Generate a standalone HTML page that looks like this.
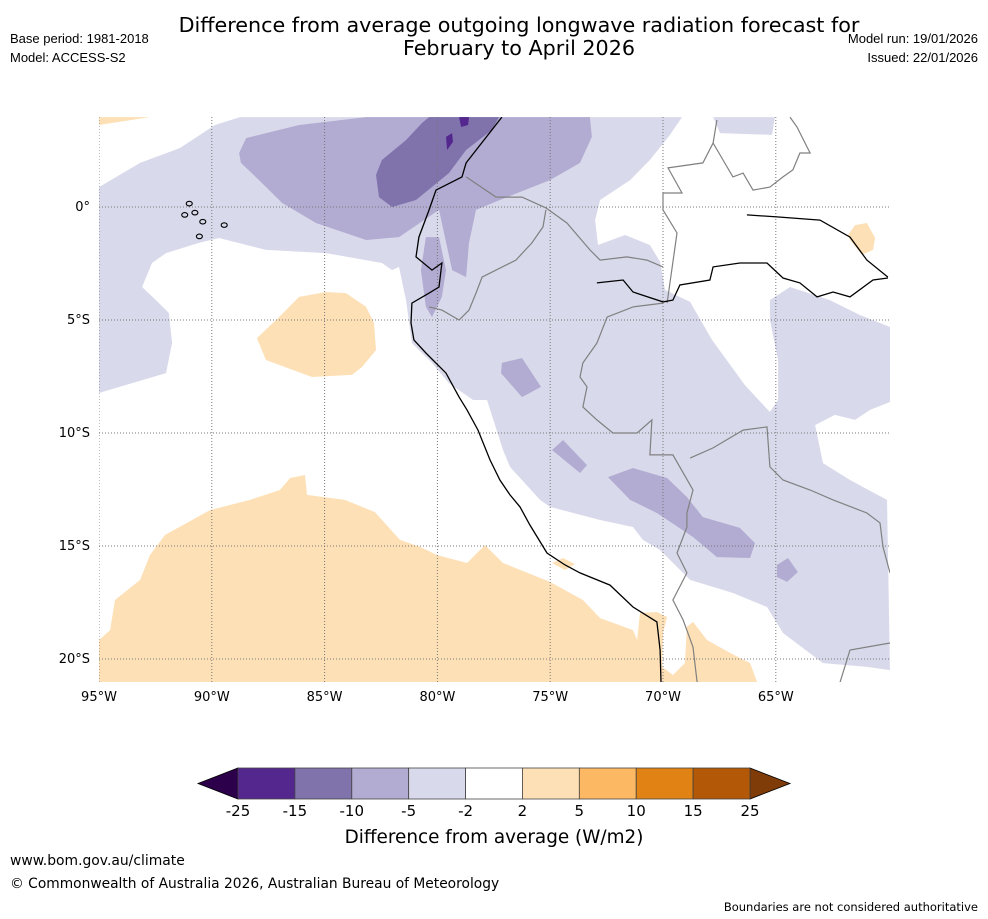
<!DOCTYPE html>
<html><head><meta charset="utf-8"><style>
body{margin:0;background:#fff;font-family:"DejaVu Sans",sans-serif}
svg{display:block}
</style></head><body>
<svg id="chart" width="988" height="919" viewBox="0 0 988 919" xmlns="http://www.w3.org/2000/svg" font-family="DejaVu Sans, Liberation Sans, sans-serif">
<rect width="988" height="919" fill="#fff"/>
<text x="519" y="32" font-size="20.7" text-anchor="middle">Difference from average outgoing longwave radiation forecast for</text>
<text x="519" y="55" font-size="20.7" text-anchor="middle">February to April 2026</text>
<text x="10" y="43" font-size="13" font-family="Liberation Sans, sans-serif">Base period: 1981-2018</text>
<text x="10" y="62" font-size="13" font-family="Liberation Sans, sans-serif">Model: ACCESS-S2</text>
<text x="978" y="43" font-size="13" text-anchor="end" font-family="Liberation Sans, sans-serif">Model run: 19/01/2026</text>
<text x="978" y="62" font-size="13" text-anchor="end" font-family="Liberation Sans, sans-serif">Issued: 22/01/2026</text>
<defs><clipPath id="mapclip"><rect x="99" y="117" width="791" height="565"/></clipPath></defs>
<g id="map" clip-path="url(#mapclip)"></g>
<g id="axes"></g>
<g id="cbar"></g>
<text x="494" y="843" font-size="18.4" text-anchor="middle">Difference from average (W/m2)</text>
<text x="10" y="865" font-size="13.9">www.bom.gov.au/climate</text>
<text x="10" y="888" font-size="13.8">© Commonwealth of Australia 2026, Australian Bureau of Meteorology</text>
<text x="978" y="911" font-size="11.5" text-anchor="end">Boundaries are not considered authoritative</text>
</svg>
<script>
// ---- data: colour levels ----
const levels = [-25,-15,-10,-5,-2,2,5,10,15,25];
const levelColors = ["#54278f","#8073ac","#b2abd2","#d8daeb","#ffffff","#fee0b6","#fdb863","#e08214","#b35806"];
const lonTicks = [-95,-90,-85,-80,-75,-70,-65];
const lonTickLabels = ["95°W","90°W","85°W","80°W","75°W","70°W","65°W"];
const latTicks = [0,-5,-10,-15,-20];
const latTickLabels = ["0°","5°S","10°S","15°S","20°S"];
// ---- data: anomaly contour regions (lon, lat) ----
const regionBand = ["-5to-2","-5to-2","-10to-5","-15to-10","-25to-15","-25to-15","-10to-5","-10to-5","-10to-5","-10to-5","-10to-5","2to5","2to5","2to5","2to5","2to5"];
const regionColorIndex = [3,3,2,1,0,0,2,2,2,2,2,5,5,5,5,5];
const regionL1 = [[-95,0.88],[-93.18,1.95],[-91.41,2.61],[-89.86,3.63],[-88.75,3.98],[-69.16,3.98],[-69.69,3.19],[-70.58,2.08],[-71.46,1.19],[-72.79,0.31],[-73.01,-0.58],[-72.88,-1.68],[-71.68,-1.24],[-70.58,-1.68],[-70.13,-2.43],[-69.91,-3.67],[-68.8,-4.2],[-67.83,-5.88],[-66.37,-7.88],[-65.26,-9.07],[-64.9,-8.54],[-64.9,-6.77],[-65.26,-5],[-65.26,-4.12],[-64.37,-3.54],[-62.6,-4.12],[-61.27,-4.78],[-59.94,-5.31],[-59.94,-8.63],[-60.82,-8.98],[-61.49,-9.42],[-62.38,-9.2],[-63.26,-9.65],[-62.91,-11.33],[-61.71,-12.08],[-60.07,-12.96],[-59.94,-20.49],[-60.96,-20.35],[-62.91,-20.18],[-64.68,-18.85],[-65.39,-17.7],[-66.9,-17.08],[-68.8,-16.5],[-70.13,-15.18],[-70.89,-14.73],[-71.33,-14.16],[-72.79,-13.85],[-75.01,-13.27],[-75.45,-12.96],[-76.78,-11.5],[-77.09,-10.75],[-77.8,-8.54],[-78.42,-8.54],[-79.49,-7.79],[-80.24,-6.9],[-81.13,-6.02],[-81.39,-4.12],[-81.7,-2.65],[-82.01,-2.79],[-82.46,-2.48],[-84.94,-2.04],[-87.6,-1.9],[-89.68,-1.37],[-90.57,-1.59],[-92.03,-2.04],[-92.65,-2.48],[-93.09,-3.54],[-92.34,-4.25],[-91.9,-4.69],[-91.76,-6.02],[-92.03,-7.35],[-95,-8.23]];
const regionL2 = [[-67.78,3.98],[-65.04,3.98],[-65.17,3.19],[-67.47,3.27]];
const regionM1 = [[-88.79,2.39],[-88.48,3.05],[-86.13,3.63],[-83.16,3.98],[-73.24,3.98],[-73.15,3.1],[-73.68,1.95],[-75.01,1.19],[-77.23,0.31],[-78.29,-0.13],[-78.6,-1.59],[-78.73,-3.1],[-79.35,-2.79],[-79.93,-0.13],[-81.7,-1.33],[-83.16,-1.46],[-85.38,-0.71],[-86.89,0.18],[-87.91,1.19],[-88.71,1.95]];
const regionD1 = [[-82.72,1.42],[-82.46,2.08],[-81.39,2.96],[-80.68,3.72],[-80.37,3.98],[-77.27,3.98],[-77.58,3.41],[-78.73,2.52],[-79.49,1.5],[-80.95,0.31],[-82.01,0],[-82.59,0.44]];
const regionP1 = [[-79.04,3.98],[-78.6,3.98],[-78.64,3.63],[-78.95,3.54]];
const regionP2 = [[-79.62,3.1],[-79.35,3.27],[-79.31,2.88],[-79.57,2.52]];
const regionM2 = [[-80.51,-1.33],[-79.93,-1.33],[-79.62,-2.79],[-79.8,-3.98],[-80.24,-4.87],[-80.51,-4.42],[-80.73,-2.79]];
const regionM3 = [[-77.14,-6.9],[-76.25,-6.68],[-75.41,-7.96],[-76.25,-8.41],[-77.18,-7.35]];
const regionM4 = [[-74.92,-10.75],[-74.43,-10.31],[-73.37,-11.42],[-73.68,-11.77]];
const regionM5 = [[-72.44,-11.95],[-71.33,-11.55],[-69.82,-11.99],[-68.94,-12.83],[-68.23,-13.72],[-66.59,-14.2],[-65.92,-14.87],[-66.14,-15.53],[-67.61,-15.49],[-68.67,-14.6],[-70.27,-13.54],[-71.46,-12.96]];
const regionM6 = [[-64.95,-15.84],[-64.46,-15.53],[-64.02,-16.15],[-64.5,-16.59],[-64.95,-16.37]];
const regionO0 = [[-95,3.98],[-92.74,3.98],[-95,3.63]];
const regionO1 = [[-88,-5.8],[-87.02,-4.87],[-86.13,-3.98],[-84.94,-3.76],[-84.05,-3.81],[-83.16,-4.42],[-82.81,-5.13],[-82.72,-6.33],[-83.34,-7.08],[-83.79,-7.43],[-85.56,-7.52],[-87.6,-6.77]];
const regionO2 = [[-61.8,-1.24],[-61.49,-0.8],[-60.96,-0.71],[-60.6,-1.37],[-60.69,-1.9],[-61.18,-2.12],[-61.71,-1.46]];
const regionO3 = [[-95,-19.16],[-94.51,-18.72],[-94.29,-17.39],[-93.18,-16.5],[-92.74,-15.4],[-92.07,-14.51],[-90.08,-13.41],[-88.31,-12.96],[-86.98,-12.52],[-86.53,-11.99],[-85.87,-11.86],[-85.78,-12.74],[-84.1,-12.96],[-82.77,-13.5],[-81.66,-14.73],[-80.77,-15.04],[-80.02,-15.4],[-78.69,-15.75],[-77.89,-14.96],[-77.09,-15.75],[-75.01,-16.59],[-73.55,-17.39],[-72.79,-18.19],[-71.33,-18.72],[-71.15,-19.16],[-71.02,-17.96],[-70.27,-17.92],[-69.82,-18.14],[-70,-18.85],[-70.04,-20.35],[-69.56,-20.71],[-69.03,-20.18],[-68.94,-18.58],[-68.67,-18.36],[-68.05,-19.16],[-67.03,-19.73],[-66.14,-20.18],[-65.83,-21.02],[-95,-21.02]];
const regionO4 = [[-74.92,-15.75],[-74.43,-15.53],[-73.9,-15.8],[-74.34,-16.06]];
const regions = [regionL1,regionL2,regionM1,regionD1,regionP1,regionP2,regionM2,regionM3,regionM4,regionM5,regionM6,regionO0,regionO1,regionO2,regionO3,regionO4];
// ---- data: coastlines / borders ----
const coastWest = [[-77.14,3.98],[-78.73,1.95],[-78.91,1.33],[-80.06,0.75],[-80.37,-0.13],[-80.82,-1.33],[-80.95,-2.21],[-80.24,-2.79],[-79.8,-2.48],[-79.93,-3.54],[-80.37,-3.81],[-81.13,-4.25],[-81.17,-5.13],[-81.04,-5.88],[-80.51,-6.46],[-79.62,-7.35],[-79.04,-8.41],[-78.69,-8.98],[-78.2,-9.87],[-77.67,-11.19],[-77.23,-12.08],[-76.78,-12.74],[-76.34,-13.27],[-75.9,-14.07],[-75.14,-15.31],[-74.34,-15.84],[-73.68,-16.19],[-72.35,-16.73],[-71.33,-17.7],[-70.27,-18.36],[-70.13,-19.6],[-70.09,-21.02]];
const riverLower = [[-72.93,-3.36],[-71.77,-3.23],[-71.33,-3.76],[-70,-4.2],[-69.56,-4.12],[-69.25,-3.45],[-67.92,-3.23],[-67.78,-2.65],[-66.59,-2.48],[-65.39,-2.48],[-64.68,-3.14],[-63.93,-3.36],[-63.17,-3.98],[-62.46,-3.76],[-61.71,-3.98],[-60.69,-3.23],[-60.03,-3.14]];
const riverUpper = [[-66.28,-0.35],[-64.95,-0.44],[-63.04,-0.58],[-61.71,-1.33],[-60.96,-2.35],[-60.03,-3.1]];
const border1 = [[-78.73,1.33],[-77.4,0.44],[-76.25,0.44],[-75.19,-0.04],[-74.26,-0.71],[-73.24,-1.9],[-72.79,-2.35],[-71.6,-2.21],[-70.71,-2.35],[-70,-2.65]];
const border2 = [[-75.19,-0.13],[-75.32,-0.88],[-75.81,-1.59],[-76.52,-2.35],[-78.02,-3.1],[-78.29,-3.81],[-78.6,-4.56],[-79.04,-5],[-79.8,-4.56],[-80.37,-4.42]];
const border3 = [[-70,-4.25],[-71.33,-4.42],[-72.48,-4.87],[-72.93,-6.02],[-73.55,-6.9],[-73.68,-7.52],[-73.37,-7.96],[-73.55,-8.85],[-72.93,-9.42],[-72.22,-10],[-71.15,-10],[-70.49,-9.42],[-70.58,-10.97],[-69.56,-10.97],[-68.67,-12.52],[-68.94,-13.54],[-68.94,-14.16],[-69.38,-15.31],[-68.94,-16.19],[-69.56,-17.39],[-69.11,-18.27],[-68.67,-19.47],[-68.49,-21.02]];
const border4 = [[-68.8,-11.11],[-67.78,-10.66],[-66.45,-9.87],[-65.39,-9.73],[-65.26,-11.5],[-64.68,-12.08],[-63.48,-12.52],[-62.46,-12.96],[-60.96,-13.54],[-60.38,-13.98],[-60.25,-15.04],[-59.94,-16.19]];
const border5 = [[-62.15,-21.02],[-61.71,-19.6],[-59.94,-19.29]];
const border6 = [[-69.82,-4.25],[-69.38,-1.15],[-70,-0.13],[-70,0.62],[-69.16,0.62],[-69.78,1.73],[-68.23,1.95],[-67.78,2.83],[-67.61,3.85]];
const border7 = [[-67.78,2.83],[-66.9,1.33],[-66.45,1.5],[-66.01,0.75],[-65.26,0.88],[-64.68,1.33],[-64.24,1.64],[-63.93,2.39],[-63.48,2.39],[-64.06,3.54],[-64.37,3.98]];
const islandLon = [-91.2,-90.75,-90.4,-89.45,-90.55,-91.0];
const islandLat = [-0.35,-0.25,-0.65,-0.8,-1.3,0.15];

const NS="http://www.w3.org/2000/svg";
const X0=99,PXLON=22.56,Y0=207,PXLAT=22.6;
function px(lon){return X0+(lon+95)*PXLON;}
function py(lat){return Y0-lat*PXLAT;}
function mk(tag,attrs,parent){const e=document.createElementNS(NS,tag);for(const k in attrs)e.setAttribute(k,attrs[k]);parent.appendChild(e);return e;}
function pts(arr){return arr.map(p=>px(p[0]).toFixed(1)+","+py(p[1]).toFixed(1)).join(" ");}

const map=document.getElementById("map");
regions.forEach((r,i)=>{
  const e=mk("polygon",{points:pts(r),fill:levelColors[regionColorIndex[i]]},map);
  
  
});
lonTicks.forEach(l=>{
  const e=mk("line",{x1:px(l),x2:px(l),y1:117,y2:682,stroke:"#777","stroke-width":1,"stroke-dasharray":"1,2"},map);
  
  
});
latTicks.forEach(l=>{
  const e=mk("line",{x1:99,x2:890,y1:py(l),y2:py(l),stroke:"#777","stroke-width":1,"stroke-dasharray":"1,2"},map);
  
  
});
[border1,border2,border3,border4,border5,border6,border7].forEach(b=>{
  const e=mk("polyline",{points:pts(b),fill:"none",stroke:"#808080","stroke-width":1.2},map);
  
  
});
[coastWest,riverLower,riverUpper].forEach(b=>{
  const e=mk("polyline",{points:pts(b),fill:"none",stroke:"#000","stroke-width":1.3},map);
  
  
});
islandLon.forEach((l,i)=>{
  const e=mk("ellipse",{cx:px(l),cy:py(islandLat[i]),rx:3,ry:2.3,fill:"none",stroke:"#000","stroke-width":1.1},map);
  
  
});
const axes=document.getElementById("axes");
lonTicks.forEach((l,i)=>{
  const t=mk("text",{x:px(l),y:701,"font-size":13,"text-anchor":"middle"},axes);
  t.textContent=lonTickLabels[i];
  
  
});
latTicks.forEach((l,i)=>{
  const t=mk("text",{x:90,y:py(l)+4,"font-size":13,"text-anchor":"end"},axes);
  t.textContent=latTickLabels[i];
  
  
});
const cb=document.getElementById("cbar");
const CBX=238,CBW=512,CBY=768,CBH=31,n=levelColors.length,sw=CBW/n;
const lt=mk("polygon",{points:`198,${CBY+CBH/2} ${CBX},${CBY} ${CBX},${CBY+CBH}`,fill:"#2d004b",stroke:"#000","stroke-width":0.8},cb);


const rt=mk("polygon",{points:`${CBX+CBW},${CBY} ${CBX+CBW+40},${CBY+CBH/2} ${CBX+CBW},${CBY+CBH}`,fill:"#7f3b08",stroke:"#000","stroke-width":0.8},cb);


levelColors.forEach((c,i)=>{
  const r=mk("rect",{x:CBX+i*sw,y:CBY,width:sw,height:CBH,fill:c,stroke:"#444","stroke-width":0.8},cb);
  
  
});
levels.forEach((v,i)=>{
  const t=mk("text",{x:CBX+i*sw,y:816,"font-size":15,"text-anchor":"middle"},cb);
  t.textContent=v;
  
  
});
</script>
</body></html>
